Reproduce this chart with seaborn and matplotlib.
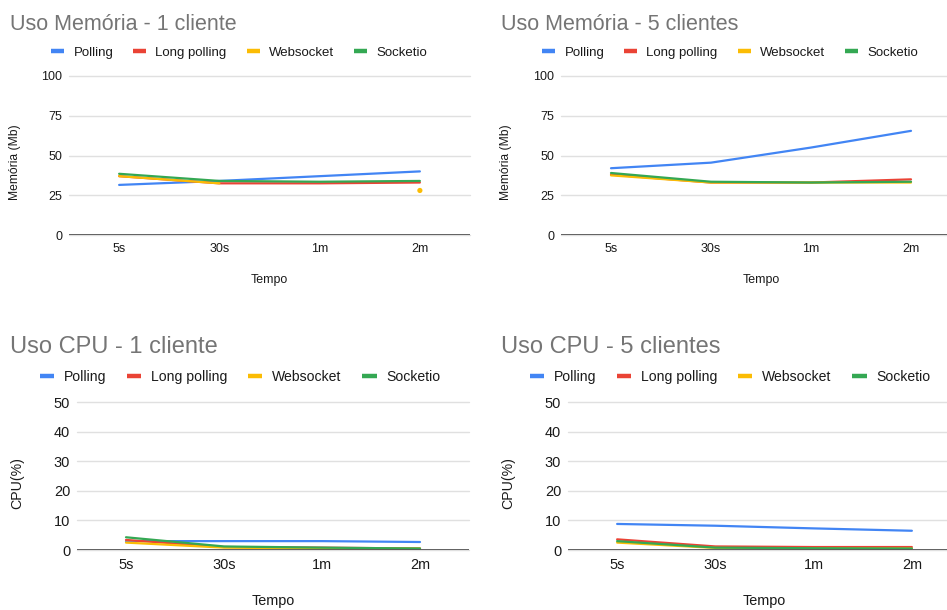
import numpy as np
import pandas as pd
import matplotlib
matplotlib.use("Agg")
import matplotlib.pyplot as plt
import seaborn as sns

sns.set_theme(style="white")
plt.rcParams['font.family'] = ['Liberation Sans', 'DejaVu Sans']

# ---------------- data ----------------
tempos = ["5s", "30s", "1m", "2m"]
series_names = ["Polling", "Long polling", "Websocket", "Socketio"]
colors = ["#4285F4", "#EA4335", "#FBBC04", "#34A853"]

mem1_polling = [31.5, 34.0, 37.0, 40.0]
mem1_long = [37.0, 32.5, 32.5, 33.0]
mem1_ws = [37.0, 32.5, np.nan, 28.0]
mem1_socketio = [38.5, 34.0, 33.5, 34.0]

mem5_polling = [42.0, 45.5, 55.0, 65.5]
mem5_long = [38.0, 33.0, 33.0, 35.0]
mem5_ws = [37.5, 33.0, 33.0, 33.0]
mem5_socketio = [39.0, 33.5, 33.0, 33.5]

cpu1_polling = [3.0, 3.0, 3.0, 2.7]
cpu1_long = [3.4, 1.0, 0.8, 0.5]
cpu1_ws = [2.5, 0.8, 0.5, 0.5]
cpu1_socketio = [4.3, 1.2, 0.8, 0.5]

cpu5_polling = [8.8, 8.2, 7.3, 6.5]
cpu5_long = [3.6, 1.2, 1.0, 1.0]
cpu5_ws = [2.5, 0.7, 0.5, 0.5]
cpu5_socketio = [3.0, 0.8, 0.6, 0.5]

titles = ["Uso Memória - 1 cliente", "Uso Memória - 5 clientes",
          "Uso CPU - 1 cliente", "Uso CPU - 5 clientes"]
ylabels = ["Memória (Mb)", "Memória (Mb)", "CPU(%)", "CPU(%)"]
yticks_mem = [0, 25, 50, 75, 100]
yticks_cpu = [0, 10, 20, 30, 40, 50]

panels = [
    [mem1_polling, mem1_long, mem1_ws, mem1_socketio],
    [mem5_polling, mem5_long, mem5_ws, mem5_socketio],
    [cpu1_polling, cpu1_long, cpu1_ws, cpu1_socketio],
    [cpu5_polling, cpu5_long, cpu5_ws, cpu5_socketio],
]

# ---------------- layout (pixels) ----------------
W, H = 947, 610
fig = plt.figure(figsize=(W / 100, H / 100), dpi=100)

boxes = [
    dict(left=69, top=76, bottom=235, full=401, scale=1.0, legfs=9.5, title=(10, 25), leg=(239, 53), ylab=15, ylab_y=162, xlab_y=280),
    dict(left=561, top=76, bottom=235, full=400, scale=1.0, legfs=9.5, title=(501, 25), leg=(730, 53), ylab=506, ylab_y=162, xlab_y=280),
    dict(left=77, top=402, bottom=550, full=392, scale=1.16, legfs=10.1, title=(10, 347), leg=(240, 377), ylab=17, ylab_y=483, xlab_y=601),
    dict(left=568, top=402, bottom=550, full=393, scale=1.16, legfs=10.1, title=(501, 347), leg=(730, 377), ylab=508, ylab_y=483, xlab_y=601),
]

for i, (box, vals) in enumerate(zip(boxes, panels)):
    s = box["scale"]
    right = min(box["left"] + box["full"], W)
    width = right - box["left"]
    ax = fig.add_axes([box["left"] / W, (H - box["bottom"]) / H,
                       width / W, (box["bottom"] - box["top"]) / H])
    xmax = -0.5 + 4 * width / box["full"]

    handles = []
    for name, col, v in zip(series_names, colors, vals):
        df = pd.DataFrame({"x": np.arange(len(tempos)), "y": v})
        valid = df["y"].notna().to_numpy()
        seg_id = np.cumsum(~valid)
        for sid in np.unique(seg_id[valid]):
            seg = df[(seg_id == sid) & valid]
            if len(seg) >= 2:
                sns.lineplot(data=seg, x="x", y="y", ax=ax, color=col, lw=1.6,
                             legend=False, estimator=None, sort=False)
            else:
                sns.scatterplot(data=seg, x="x", y="y", ax=ax, color=col, s=14,
                                edgecolor="none", legend=False, zorder=3)
        handles.append(plt.Line2D([0], [0], color=col, lw=3.2, solid_capstyle="butt"))

    ax.set_xlim(-0.5, xmax)
    if i < 2:
        ax.set_ylim(0, 100)
        ax.set_yticks(yticks_mem)
    else:
        ax.set_ylim(0, 50)
        ax.set_yticks(yticks_cpu)
    ax.set_xticks(range(len(tempos)))
    ax.set_xticklabels(tempos)
    for sp in ax.spines.values():
        sp.set_visible(False)
    ax.grid(axis="y", color="#e0e0e0", lw=1.0)
    ax.grid(axis="x", visible=False)
    ax.axhline(0, color="#555555", lw=1.3, zorder=4)
    ax.tick_params(axis="both", length=0, labelsize=9 * s, colors="#1a1a1a")
    ax.tick_params(axis="x", pad=6)
    ax.tick_params(axis="y", pad=5)
    for line in ax.get_ygridlines():
        line.set_clip_on(False)

    ax.set_xlabel("Tempo", fontsize=8.9 * s, color="#1a1a1a")
    ax.xaxis.set_label_coords((box["full"] / 2) / width,
                              -(box["xlab_y"] - box["bottom"]) / (box["bottom"] - box["top"]))
    ax.xaxis.label.set_va("center")
    ax.set_ylabel(ylabels[i], fontsize=(8.7 if i < 2 else 10.2), color="#1a1a1a")
    ax.yaxis.set_label_coords((box["ylab"] - box["left"]) / width,
                              (box["bottom"] - box["ylab_y"]) / (box["bottom"] - box["top"]))
    ax.yaxis.label.set_va("center")

    fig.text(box["title"][0] / W, 1 - box["title"][1] / H, titles[i],
             fontsize=15.5 if i < 2 else 17.0, color="#757575", va="center", ha="left")

    ax.legend(handles, series_names, loc="center", ncol=4, frameon=False,
              bbox_to_anchor=(box["leg"][0] / W, 1 - box["leg"][1] / H),
              bbox_transform=fig.transFigure, fontsize=box["legfs"],
              handlelength=1.0, handletextpad=0.7, columnspacing=1.5,
              labelcolor="#1a1a1a")

fig.savefig("out.png", dpi=100)
